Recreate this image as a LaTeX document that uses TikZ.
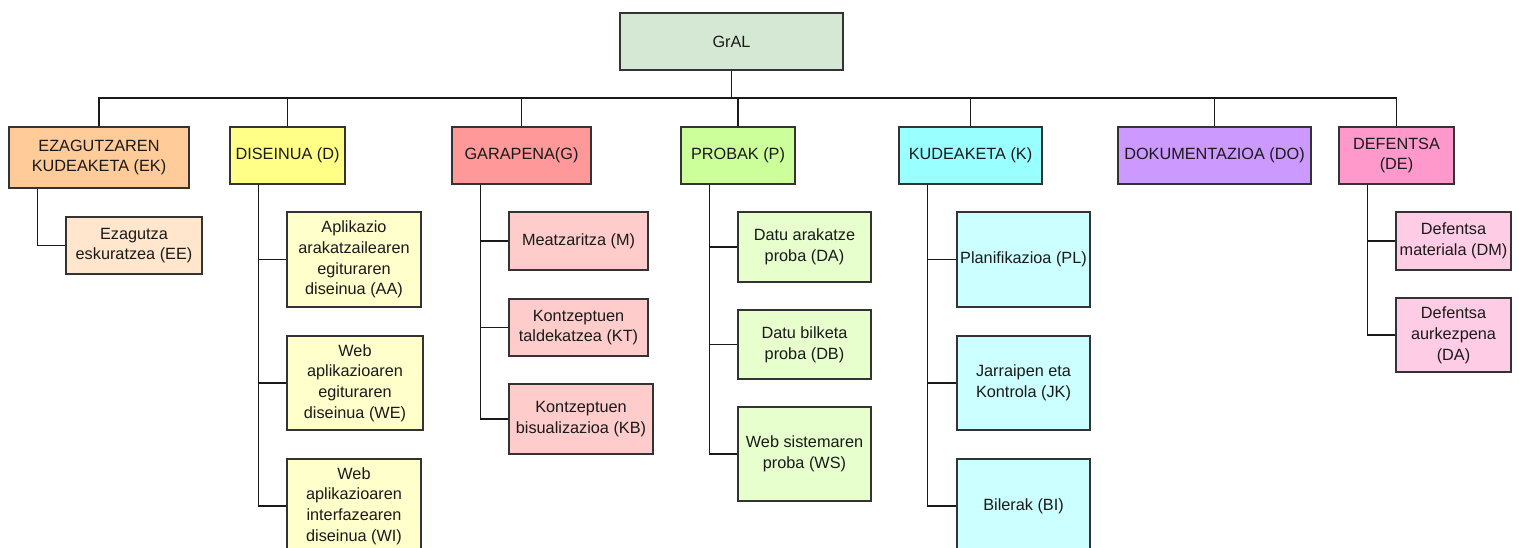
\documentclass[tikz,border=0pt]{standalone}
\usepackage{fontspec}
\setmainfont{Liberation Sans}
\usetikzlibrary{calc}

\definecolor{edge}{HTML}{333333}
\definecolor{ink}{HTML}{1A1A1A}
\definecolor{cGrAL}{HTML}{D5E8D4}
\definecolor{cEK}{HTML}{FFCC99}
\definecolor{cEKs}{HTML}{FFE6CC}
\definecolor{cD}{HTML}{FFFF88}
\definecolor{cDs}{HTML}{FFFFCC}
\definecolor{cG}{HTML}{FF9999}
\definecolor{cGs}{HTML}{FFCCCC}
\definecolor{cP}{HTML}{CCFF99}
\definecolor{cPs}{HTML}{E6FFCC}
\definecolor{cK}{HTML}{99FFFF}
\definecolor{cKs}{HTML}{CCFFFF}
\definecolor{cDO}{HTML}{CC99FF}
\definecolor{cDE}{HTML}{FF99CC}
\definecolor{cDEs}{HTML}{FFCCE6}

\tikzset{
  wbs/.style={draw=edge, line width=1.1pt, inner sep=0pt, align=center,
    text=ink, font=\fontsize{12.2}{15.6}\selectfont},
  sz/.style 2 args={minimum width=#1*0.75pt, minimum height=#2*0.75pt},
  link/.style={draw=ink, line width=1.1pt},
}

\begin{document}
\begin{tikzpicture}[x=0.75pt, y=-0.75pt]
\useasboundingbox[fill=white] (0,0) rectangle (1519,547);

% root
\node[wbs, fill=cGrAL, sz={223}{57}] (gral) at (731.5,41.5) {GrAL};

% first level
\node[wbs, fill=cEK, sz={180}{61}] (ek) at (99,157.5) {EZAGUTZAREN\\KUDEAKETA (EK)};
\node[wbs, fill=cD, sz={115}{57}] (d) at (287.5,155.5) {DISEINUA (D)};
\node[wbs, fill=cG, sz={139}{57}] (g) at (521.5,155.5) {GARAPENA(G)};
\node[wbs, fill=cP, sz={114}{57}] (p) at (738,155.5) {PROBAK (P)};
\node[wbs, fill=cK, sz={143}{57}] (k) at (970.5,155.5) {KUDEAKETA (K)};
\node[wbs, fill=cDO, sz={193}{57}] (do) at (1214.5,155.5) {DOKUMENTAZIOA (DO)};
\node[wbs, fill=cDE, sz={115}{57}] (de) at (1396.5,155.5) {DEFENTSA\\(DE)};

% second level
\node[wbs, fill=cEKs, sz={136}{57}] (ee) at (134,245.5) {Ezagutza\\eskuratzea (EE)};

\node[wbs, fill=cDs, sz={134}{95}] (aa) at (354,259.5) {Aplikazio\\arakatzailearen\\egituraren\\diseinua (AA)};
\node[wbs, fill=cDs, sz={136}{94}] (we) at (355,383) {Web\\aplikazioaren\\egituraren\\diseinua (WE)};
\node[wbs, fill=cDs, sz={134}{94}] (wi) at (354,506) {Web\\aplikazioaren\\interfazearen\\diseinua (WI)};

\node[wbs, fill=cGs, sz={139}{58}] (m) at (578.5,241) {Meatzaritza (M)};
\node[wbs, fill=cGs, sz={139}{57}] (kt) at (578.5,327.5) {Kontzeptuen\\taldekatzea (KT)};
\node[wbs, fill=cGs, sz={144}{70}] (kb) at (581,419) {Kontzeptuen\\bisualizazioa (KB)};

\node[wbs, fill=cPs, sz={133}{70}] (da) at (804.5,247) {Datu arakatze\\proba (DA)};
\node[wbs, fill=cPs, sz={133}{69}] (db) at (804.5,344.5) {Datu bilketa\\proba (DB)};
\node[wbs, fill=cPs, sz={133}{94}] (ws) at (804.5,454) {Web sistemaren\\proba (WS)};

\node[wbs, fill=cKs, sz={133}{95}] (pl) at (1023.5,259.5) {Planifikazioa (PL)};
\node[wbs, fill=cKs, sz={133}{94}] (jk) at (1023.5,383) {Jarraipen eta\\Kontrola (JK)};
\node[wbs, fill=cKs, sz={133}{94}] (bi) at (1023.5,506) {Bilerak (BI)};

\node[wbs, fill=cDEs, sz={115}{58}] (dm) at (1453.5,241) {Defentsa\\materiala (DM)};
\node[wbs, fill=cDEs, sz={115}{74}] (dap) at (1453.5,335) {Defentsa\\aurkezpena\\(DA)};

% horizontal bus under the root
\coordinate (bus) at (0,98);
\foreach \t in {ek,d,g,p,k,do,de}
  \draw[link] (gral.south) -- (gral.south |- bus) -| (\t.north);

% branches from each first-level box to its children
\foreach \up/\kid in {ek/ee, d/aa, d/we, d/wi, g/m, g/kt, g/kb,
                      p/da, p/db, p/ws, k/pl, k/jk, k/bi, de/dm, de/dap}
  \draw[link] ($(\up.south west)+(29,0)$) |- (\kid.west);
\end{tikzpicture}
\end{document}
